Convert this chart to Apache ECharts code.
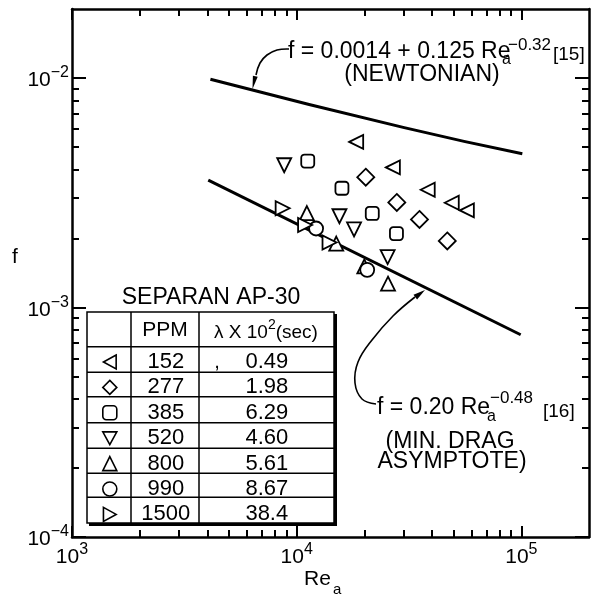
<!DOCTYPE html>
<html><head><meta charset="utf-8">
<script src="https://cdn.jsdelivr.net/npm/echarts@6/dist/echarts.min.js"></script>
<style>html,body{margin:0;padding:0;background:#fff}#c{width:596px;height:604px}</style>
</head><body><div id="c"></div>
<script>
// ---- data ----
const ppm = ['152', '277', '385', '520', '800', '990', '1500'];
const lambda = ['0.49', '1.98', '6.29', '4.60', '5.61', '8.67', '38.4'];

const re152 = [18400, 26800, 38300, 49000, 57200];
const f152  = [0.00527, 0.00408, 0.00326, 0.00286, 0.00265];
const re277 = [20300, 27900, 35200, 46800];
const f277  = [0.00370, 0.00287, 0.00242, 0.00195];
const re385 = [11200, 15900, 21700, 27800];
const f385  = [0.00435, 0.00331, 0.00257, 0.00210];
const re520 = [8800, 15500, 18000, 25400];
const f520  = [0.00417, 0.00250, 0.00219, 0.00166];
const re800 = [11100, 15000, 20000, 25500];
const f800  = [0.00258, 0.00190, 0.00151, 0.00127];
const re990 = [12200, 20600];
const f990  = [0.00221, 0.00146];
const re1500 = [8660, 10900, 14000];
const f1500  = [0.00271, 0.00229, 0.00192];

const reNewt = [4130, 30100, 101000];
const fNewt  = [0.00989, 0.00608, 0.00468];
const reMdr  = [4040, 99300];
const fMdr   = [0.00359, 0.000761];

const xMajor = [1e3, 1e4, 1e5];
const xMinor = [2e3,3e3,4e3,5e3,6e3,7e3,8e3,9e3,2e4,3e4,4e4,5e4,6e4,7e4,8e4,9e4];
const yMajor = [1e-4, 1e-3, 1e-2];
const yMinor = [2e-4,3e-4,4e-4,5e-4,6e-4,7e-4,8e-4,9e-4,2e-3,3e-3,4e-3,5e-3,6e-3,7e-3,8e-3,9e-3];

// ---- chart ----
const chart = echarts.init(document.getElementById('c'), null, { renderer: 'canvas' });
const FONT = 'Liberation Sans';
const zip = (a, b) => a.map((v, i) => [v, b[i]]);
const powLabel = v => {
  const e = Math.round(Math.log10(v));
  return '{b|10}{s|' + (e < 0 ? '\u2212' + (-e) : String(e)) + '}';
};
const labelRich = {
  b: { fontSize: 21, lineHeight: 26, verticalAlign: 'bottom', fontFamily: FONT, color: '#000' },
  s: { fontSize: 16, lineHeight: 14, verticalAlign: 'top', fontFamily: FONT, color: '#000' }
};

function axis(kind, pos, major, showLine, showLabel) {
  const isX = kind === 'x';
  return {
    type: 'log', logBase: 10, position: pos,
    min: isX ? 1e3 : 1e-4, max: isX ? 2e5 : 2e-2,
    splitLine: { show: false },
    axisLine: { show: showLine, onZero: false, lineStyle: { color: '#000', width: 2.5 } },
    axisTick: {
      show: true, inside: true,
      length: major ? (isX ? 11 : 14) : 7,
      customValues: major ? (isX ? xMajor : yMajor) : (isX ? xMinor : yMinor),
      lineStyle: { color: '#000', width: 2 }
    },
    axisLabel: showLabel ? {
      show: true, customValues: isX ? xMajor : yMajor,
      formatter: powLabel, rich: labelRich, margin: isX ? 5 : 3
    } : { show: false }
  };
}

const symbolDefs = [
  { symbol: 'triangle', rot: 90, size: 14, icon: 'path://M10,0L0,5.5L10,11Z' },
  { symbol: 'diamond', rot: 0, size: 17, icon: 'diamond' },
  { symbol: 'roundRect', rot: 0, size: 13, icon: 'roundRect' },
  { symbol: 'triangle', rot: 180, size: 14, icon: 'path://M0,0L11,0L5.5,10Z' },
  { symbol: 'triangle', rot: 0, size: 14, icon: 'triangle' },
  { symbol: 'circle', rot: 0, size: 14, icon: 'circle' },
  { symbol: 'triangle', rot: -90, size: 14, icon: 'path://M0,0L10,5.5L0,11Z' }
];
const sets = [[re152, f152], [re277, f277], [re385, f385], [re520, f520], [re800, f800], [re990, f990], [re1500, f1500]];

const scatterSeries = sets.map((s, i) => ({
  type: 'scatter', name: ppm[i],
  symbol: symbolDefs[i].symbol, symbolRotate: symbolDefs[i].rot, symbolSize: symbolDefs[i].size,
  itemStyle: { color: '#fff', borderColor: '#000', borderWidth: 1.8, opacity: 1 },
  data: zip(s[0], s[1]), z: 4
}));

const lineSeries = [
  { type: 'line', name: 'newt', data: zip(reNewt, fNewt), symbol: 'none', smooth: true,
    lineStyle: { color: '#000', width: 3 }, z: 2, silent: true },
  { type: 'line', name: 'mdr', data: zip(reMdr, fMdr), symbol: 'none',
    lineStyle: { color: '#000', width: 3 }, z: 2, silent: true }
];

function txt(x, y, text, size, align) {
  return { type: 'text', x: x, y: y, z: 10, silent: true,
    style: { text: text, fontSize: size, fontFamily: FONT, fill: '#000',
      textAlign: align || 'left', textVerticalAlign: 'middle', align: align || 'left', verticalAlign: 'middle' } };
}
function ln(x1, y1, x2, y2, w) {
  return { type: 'line', z: 10, silent: true, shape: { x1, y1, x2, y2 }, style: { stroke: '#000', lineWidth: w } };
}

const rowLines = [346.7, 372.3, 396.7, 422.7, 448.3, 473.3, 497.3];
const graphics = [
  txt(15, 257, 'f', 21, 'center'),
  txt(304, 579, 'Re', 21, 'left'),
  txt(333, 590, 'a', 15, 'left'),
  txt(288, 52, 'f = 0.0014 + 0.125 Re', 23, 'left'),
  txt(502, 60, 'a', 16, 'left'),
  txt(508, 45, '\u22120.32', 17, 'left'),
  txt(553, 55, '[15]', 19, 'left'),
  txt(422, 75, '(NEWTONIAN)', 23, 'center'),
  txt(377, 408, 'f = 0.20 Re', 23, 'left'),
  txt(487, 417, 'a', 16, 'left'),
  txt(490, 398, '\u22120.48', 17, 'left'),
  txt(543, 412, '[16]', 19, 'left'),
  txt(450, 442, '(MIN. DRAG', 23, 'center'),
  txt(452, 462, 'ASYMPTOTE)', 23, 'center'),
  { type: 'polyline', z: 10, silent: true,
    shape: { points: [[289, 49], [277, 50], [267, 55], [260, 63], [256, 75]], smooth: 0.4 },
    style: { stroke: '#000', lineWidth: 1.6, fill: null } },
  { type: 'polygon', z: 10, silent: true,
    shape: { points: [[252.5, 89], [257.7, 76.8], [252.9, 75.8]] }, style: { fill: '#000' } },
  { type: 'polyline', z: 10, silent: true,
    shape: { points: [[376, 404], [362, 399], [355, 383], [358, 362], [372, 340], [393, 316], [415, 297]], smooth: 0.4 },
    style: { stroke: '#000', lineWidth: 1.6, fill: null } },
  { type: 'polygon', z: 10, silent: true,
    shape: { points: [[425, 290], [417.1, 299.5], [413.5, 294.7]] }, style: { fill: '#000' } },
  txt(211, 298, 'SEPARAN AP-30', 23, 'center'),
  { type: 'rect', z: 10, silent: true, shape: { x: 87, y: 312, width: 247, height: 211 },
    style: { fill: null, stroke: '#000', lineWidth: 1.5 } },
  ln(335.5, 314, 335.5, 525, 3),
  ln(89, 524.5, 337, 524.5, 3),
  ln(131, 312, 131, 523, 1.5),
  ln(199, 312, 199, 523, 1.5),
  ...rowLines.map(y => ln(87, y, 334, y, 1.5)),
  txt(165, 330, 'PPM', 21, 'center'),
  { type: 'text', x: 266, y: 330, z: 10, silent: true,
    style: { text: '{m|\u03BB X 10}{s|2}{m|(sec)}', fill: '#000', textAlign: 'center', align: 'center',
      textVerticalAlign: 'middle', verticalAlign: 'middle',
      rich: { m: { fontSize: 19, fontFamily: FONT, lineHeight: 24, verticalAlign: 'bottom', fill: '#000' },
              s: { fontSize: 14, fontFamily: FONT, lineHeight: 13, verticalAlign: 'top', fill: '#000' } } } },
  txt(217, 362, ',', 20, 'center')
];

const option = {
  animation: false,
  backgroundColor: '#fff',
  grid: { left: 72, right: 7, top: 9, bottom: 67, containLabel: false },
  xAxis: [
    axis('x', 'bottom', true, true, true),
    axis('x', 'bottom', false, false, false),
    axis('x', 'top', true, true, false),
    axis('x', 'top', false, false, false)
  ],
  yAxis: [
    axis('y', 'left', true, true, true),
    axis('y', 'left', false, false, false),
    axis('y', 'right', true, true, false),
    axis('y', 'right', false, false, false)
  ],
  legend: {
    data: ppm.map((n, i) => ({ name: n, icon: symbolDefs[i].icon })),
    orient: 'vertical', left: 102, top: 351, padding: 0,
    itemWidth: 14, itemHeight: 14, itemGap: 3.4, selectedMode: false,
    itemStyle: { color: '#fff', borderColor: '#000', borderWidth: 1.6 },
    formatter: name => '{p|' + name + '}{l|' + lambda[ppm.indexOf(name)] + '}',
    textStyle: {
      color: '#000', fontFamily: FONT, fontSize: 22,
      rich: {
        p: { width: 88, align: 'center', fontSize: 22, lineHeight: 20, fontFamily: FONT, color: '#000' },
        l: { width: 114, align: 'center', fontSize: 22, lineHeight: 20, fontFamily: FONT, color: '#000' }
      }
    }
  },
  series: [...lineSeries, ...scatterSeries],
  graphic: graphics
};
chart.setOption(option);
</script></body></html>
